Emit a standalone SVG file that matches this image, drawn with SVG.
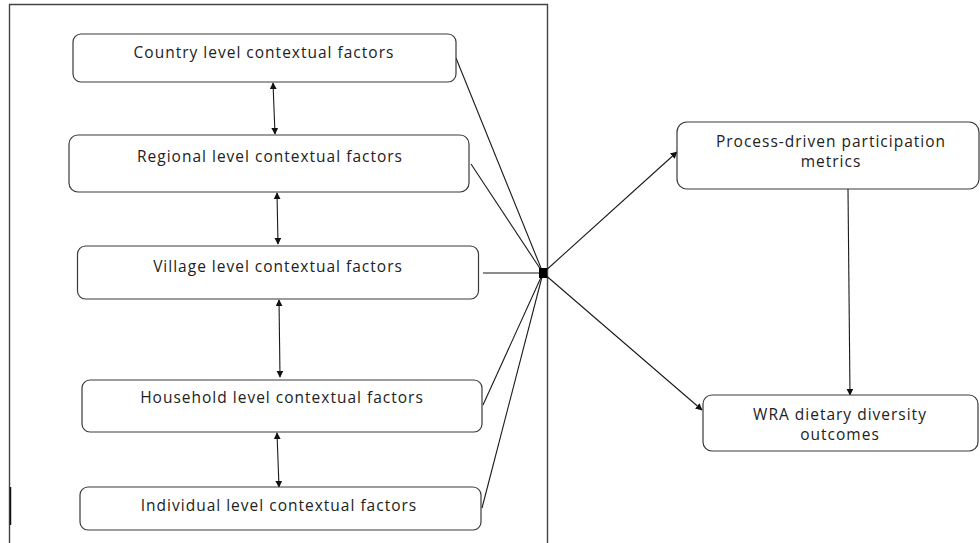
<svg xmlns="http://www.w3.org/2000/svg" width="980" height="543" viewBox="0 0 980 543">
<defs>
<style>
.box{fill:#fff;stroke:#3a3a3a;stroke-width:1.2}
.t{font-family:"Open Sans","Noto Sans","DejaVu Sans",sans-serif;font-size:15.5px;letter-spacing:1px;fill:#222;text-anchor:middle}
.c{fill:none;stroke:#1a1a1a;stroke-width:1.1}
.frame{fill:none;stroke:#444;stroke-width:1.4}
</style>
<marker id="ah" viewBox="0 0 10 10" refX="9" refY="5" markerWidth="7" markerHeight="7" orient="auto-start-reverse" markerUnits="userSpaceOnUse">
<path d="M0,0 L10,5 L0,10 z" fill="#111"/>
</marker>
</defs>
<rect width="980" height="543" fill="#fff"/>
<path class="frame" d="M9.5,543 V4.5 H547.5 V543"/>
<line x1="10.5" y1="487" x2="10.5" y2="525" stroke="#111" stroke-width="1.5"/>

<g id="connectors">
<line class="c" x1="273" y1="83" x2="275" y2="134" marker-start="url(#ah)" marker-end="url(#ah)"/>
<line class="c" x1="277" y1="193" x2="278" y2="244" marker-start="url(#ah)" marker-end="url(#ah)"/>
<line class="c" x1="279" y1="300" x2="280" y2="377" marker-start="url(#ah)" marker-end="url(#ah)"/>
<line class="c" x1="277" y1="433" x2="279" y2="487" marker-start="url(#ah)" marker-end="url(#ah)"/>
<line class="c" x1="456" y1="58" x2="543" y2="273"/>
<line class="c" x1="471" y1="164" x2="543" y2="273"/>
<line class="c" x1="483" y1="273" x2="543" y2="273"/>
<line class="c" x1="483" y1="405" x2="543" y2="273"/>
<line class="c" x1="482" y1="508" x2="543" y2="273"/>
<line class="c" x1="543" y1="273" x2="677" y2="152" marker-end="url(#ah)"/>
<line class="c" x1="543" y1="273" x2="702" y2="410" marker-end="url(#ah)"/>
<line class="c" x1="848" y1="189" x2="850" y2="395" marker-end="url(#ah)"/>
<rect x="539" y="268" width="8" height="10" fill="#000"/>
</g>

<g id="country">
<rect class="box" x="73" y="34" width="383" height="48" rx="8"/>
<text class="t" x="264" y="58">Country level contextual factors</text>
</g>
<g id="regional">
<rect class="box" x="69" y="135" width="400" height="57" rx="9"/>
<text class="t" x="270" y="162">Regional level contextual factors</text>
</g>
<g id="village">
<rect class="box" x="77.5" y="246" width="401" height="53" rx="8"/>
<text class="t" x="278" y="272">Village level contextual factors</text>
</g>
<g id="household">
<rect class="box" x="82" y="380" width="400" height="52" rx="8"/>
<text class="t" x="282" y="403">Household level contextual factors</text>
</g>
<g id="individual">
<rect class="box" x="80" y="487" width="401" height="43" rx="8"/>
<text class="t" x="279" y="511">Individual level contextual factors</text>
</g>
<g id="process">
<rect class="box" x="677" y="122" width="302" height="67" rx="10"/>
<text class="t" x="831" y="147">Process-driven participation</text>
<text class="t" x="831" y="167">metrics</text>
</g>
<g id="wra">
<rect class="box" x="703" y="395" width="275" height="56" rx="9"/>
<text class="t" x="840" y="420">WRA dietary diversity</text>
<text class="t" x="840" y="440">outcomes</text>
</g>
</svg>
